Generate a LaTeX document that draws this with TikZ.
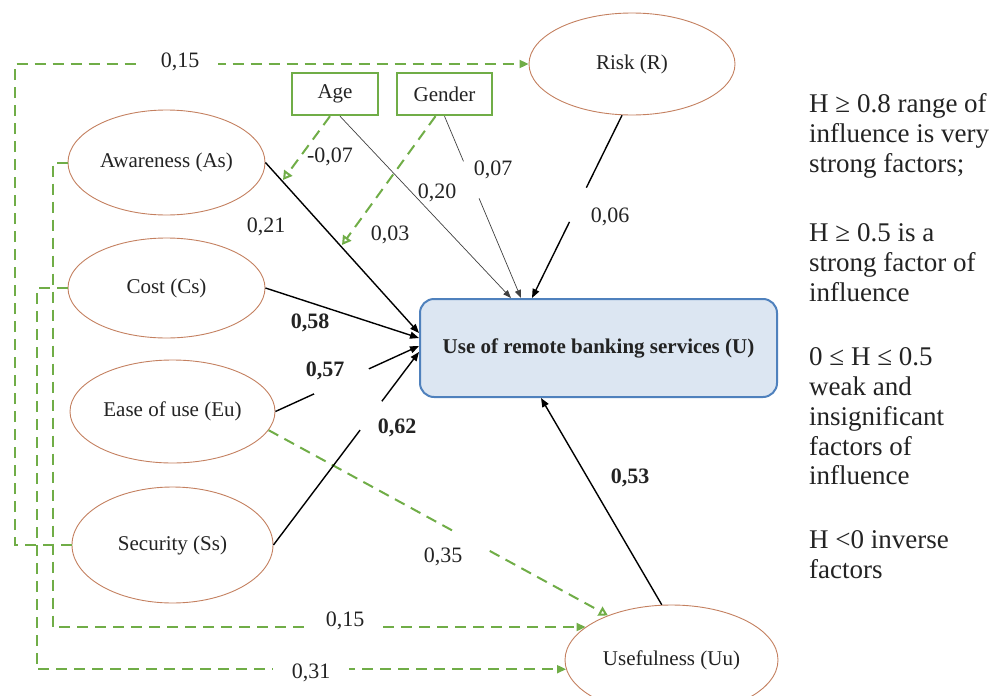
\documentclass[tikz,border=0pt]{standalone}
\usepackage{fontspec}
\setmainfont{Liberation Serif}
\usetikzlibrary{arrows.meta,shapes.geometric}
\definecolor{gr}{RGB}{112,173,71}
\definecolor{ovl}{RGB}{196,128,96}
\definecolor{boxfill}{RGB}{220,230,242}
\definecolor{boxline}{RGB}{79,129,189}
\definecolor{ink}{RGB}{35,35,35}

\begin{document}
\begin{tikzpicture}[x=1pt, y=-1pt,
    factor/.style={ellipse, draw=ovl, line width=0.9pt, fill=white, inner sep=0pt, text=ink, font=\fontsize{21}{24}\selectfont},
    ctrl/.style={draw=gr, line width=2.4pt, fill=white, minimum height=42pt, inner sep=0pt, text=ink, font=\fontsize{21}{24}\selectfont},
    bline/.style={line width=1.4pt, -{Triangle[length=9pt, width=7pt]}},
    tline/.style={line width=0.7pt, draw=black!75, -{Triangle[length=8pt, width=6pt]}},
    gline/.style={line width=2pt, draw=gr, dash pattern=on 11pt off 7pt},
    gtip/.style={-{Triangle[length=9pt, width=8pt, fill=gr]}},
    otip/.style={-{Triangle[open, length=9pt, width=10pt]}},
    hole/.style={circle, fill=white, inner sep=0pt, minimum size=#1},
    lbl/.style={text=ink, inner sep=1pt, font=\fontsize{22}{24}\selectfont},
    blbl/.style={lbl, font=\fontsize{22}{24}\selectfont\bfseries},
    glbl/.style={lbl, fill=white, inner xsep=19pt, inner ysep=2pt},
    note/.style={anchor=north west, align=left, inner sep=0pt, text=ink, font=\fontsize{27}{29.8}\selectfont}]
\useasboundingbox (0,0) rectangle (996,696);

% factors
\node[factor, minimum width=197pt, minimum height=105pt] (as) at (166.5,162.5) {Awareness (As)};
\node[factor, minimum width=197pt, minimum height=100pt] (cs) at (166.5,288) {Cost (Cs)};
\node[factor, minimum width=205pt, minimum height=103pt] (eu) at (172.5,411.5) {Ease of use (Eu)};
\node[factor, minimum width=201pt, minimum height=116pt] (ss) at (172.5,545) {Security (Ss)};
\node[factor, minimum width=206pt, minimum height=102pt] (rk) at (632,64) {Risk (R)};
\node[factor, minimum width=213pt, minimum height=110pt] (uu) at (671.5,660) {Usefulness (Uu)};
\node[ctrl, minimum width=86pt] (age) at (335,94) {Age};
\node[ctrl, minimum width=95pt] (gd) at (444.5,94) {Gender};
\node[draw=boxline, fill=boxfill, line width=2pt, rounded corners=14pt, minimum width=357pt, minimum height=98pt,
      text=ink, font=\fontsize{21}{24}\selectfont\bfseries] (box) at (598.5,348) {Use of remote banking services (U)};

% dashed lanes on the left
\draw[gline, gtip] (ss.west) -- ++(-57,0) |- (rk.west);
\draw[gline, gtip] (as.west) -- ++(-15,0) |- (uu.159);
\draw[gline, gtip] (cs.west) -- ++(-31,0) |- (uu.185);

% moderators
\coordinate (ageTip) at (283,180);
\coordinate (gdTip) at (342,245);
\draw[gline, otip] ([xshift=-5pt]age.south) -- (ageTip);
\draw[gline, otip] ([xshift=-9pt]gd.south) -- (gdTip);
\draw[gline, otip] (eu.-11) -- node[hole=34pt, pos=.6] (hEu) {} (uu.145);
\draw[tline] ([xshift=5pt]age.south) -- ([xshift=92pt]box.north west);
\draw[tline] (gd.south) -- node[hole=40pt, pos=.35] (hGd) {} ([xshift=102pt]box.north west);

% direct effects on U
\draw[bline] (as.east) -- ([yshift=15pt]box.west);
\draw[bline] (cs.east) -- ([yshift=10pt]box.west);
\draw[bline] (eu.east) -- node[hole=60pt, pos=.46] (hEb) {} ([yshift=2pt]box.west);
\draw[bline] (ss.east) -- node[hole=36pt, pos=.67] (hSs) {} ([yshift=-4pt]box.west);
\draw[bline] (rk.259) -- node[hole=38pt, pos=.49] (hRk) {} ([xshift=113pt]box.north west);
\draw[bline] (uu.100) -- ([xshift=122pt]box.south west);

% coefficients
\node[glbl] (c15a) at (180,62) {0,15};
\node[lbl] (c07a) at (330,157) {-0,07};
\node[lbl] (c20) at (437,193) {0,20};
\node[lbl] (c07b) at (493,170) {0,07};
\node[lbl] (c21) at (266,227) {0,21};
\node[lbl] (c03) at (390,235) {0,03};
\node[lbl] (c06) at (610,217) {0,06};
\node[blbl] (c58) at (310,323) {0,58};
\node[blbl] (c57) at (325,371) {0,57};
\node[blbl] (c62) at (397,428) {0,62};
\node[blbl] (c53) at (630,478) {0,53};
\node[lbl] (c35) at (443,557) {0,35};
\node[glbl] (c15b) at (345,621) {0,15};
\node[glbl] (c31) at (311,673) {0,31};

% legend
\node[note] (n1) at (809,93.6) {H ≥ 0.8 range of\\influence is very\\strong factors;};
\node[note] (n2) at (809,223.6) {H ≥ 0.5 is a\\strong factor of\\influence};
\node[note] (n3) at (809,347.6) {0 ≤ H ≤ 0.5\\weak and\\insignificant\\factors of\\influence};
\node[note] (n4) at (809,530.6) {H <0 inverse\\factors};
\end{tikzpicture}
\end{document}
